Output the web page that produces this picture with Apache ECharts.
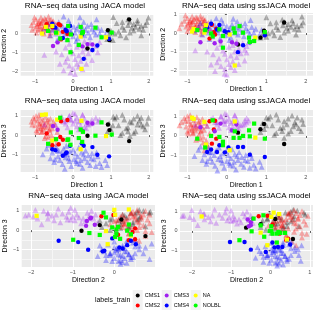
<!DOCTYPE html>
<html><head><meta charset="utf-8">
<script src="https://cdn.jsdelivr.net/npm/echarts@6/dist/echarts.min.js"></script>
<style>html,body{margin:0;padding:0;background:#fff}#c{width:315px;height:315px}</style>
</head><body><div id="c"></div>
<script>
// ---------- labels ----------
const trainNames = ['CMS1','CMS2','CMS3','CMS4','NA','NOLBL'];
const testNames = ['test CMS1','test CMS2','test CMS3','test CMS4'];
const panelTitles = ['RNA\u2212seq data using JACA model','RNA\u2212seq data using ssJACA model',
  'RNA\u2212seq data using JACA model','RNA\u2212seq data using ssJACA model',
  'RNA\u2212seq data using JACA model','RNA\u2212seq data using ssJACA model'];
const axisNames = ['Direction 1','Direction 2','Direction 3'];
const legendTitle = 'labels_train';
const majorTicks = [-3,-2,-1,0,1,2,3];
const minorTicks = [-2.5,-1.5,-0.5,0.5,1.5,2.5];

// ---------- JACA: points as [Direction1, Direction2, Direction3] ----------
const jacaTestCMS1 = [[1.06,0.87,0.95],[1.99,0.84,0.9],[1.5,0.62,0.7],[1.6,0.5,0.85],[1.7,0.55,0.55],[1.8,0.4,0.9],[1.45,0.45,0.4],[1.55,0.3,0.65],[1.65,0.35,0.2],[1.75,0.25,0.75],[1.85,0.2,0.45],[1.9,0.45,0.3],[1.35,0.2,0.8],[1.3,0.35,0.1],[1.2,0.1,0.5],[1.1,0.0,0.85],[1.0,0.15,0.3],[0.95,-0.05,0.6],[1.25,-0.1,0.0],[1.4,-0.2,0.35],[1.5,0.05,-0.05],[1.15,0.55,0.95],[1.95,0.6,0.6],[1.7,0.7,1.0],[1.45,0.75,0.2],[0.9,-0.3,0.15],[1.05,-0.35,0.5],[1.6,0.15,0.1],[1.8,-0.1,0.55],[1.3,0.6,1.05]];
const jacaTestCMS2 = [[-1.1,0.45,0.7],[-1.05,0.6,0.9],[-1.0,0.3,0.5],[-0.98,0.75,1.0],[-0.95,0.5,0.75],[-0.92,0.2,0.35],[-0.9,0.65,0.6],[-0.88,0.4,0.9],[-0.85,0.55,0.45],[-0.83,0.1,0.2],[-0.8,0.7,0.8],[-0.8,0.35,0.65],[-0.78,0.25,0.3],[-0.75,0.8,0.55],[-0.73,0.45,0.95],[-0.7,0.6,0.4],[-0.7,0.15,0.7],[-0.68,0.3,0.1],[-0.65,0.5,0.6],[-0.63,0.7,0.25],[-0.6,0.05,0.5],[-0.6,0.4,0.85],[-0.57,0.55,0.0],[-0.55,0.25,0.35],[-0.52,0.65,0.7],[-0.5,0.35,-0.2],[-0.48,0.1,0.55],[-0.45,0.5,-0.45],[-0.42,0.2,0.15],[-1.08,0.2,0.55],[-1.02,0.85,0.8],[-0.97,0.05,0.25],[-0.9,0.55,1.05],[-0.87,0.25,0.6],[-0.83,0.6,0.15],[-0.77,0.0,0.45],[-0.72,0.75,-0.05],[-0.66,0.2,0.8],[-0.62,-0.1,0.3],[-0.58,0.75,-0.3],[-0.65,0.9,-0.1],[-0.85,0.85,0.35],[-0.75,0.35,-0.15],[-0.95,0.4,0.15],[-0.55,0.6,-0.55]];
const jacaTestCMS3 = [[-0.76,-1.13,0.55],[-0.07,-2.06,0.8],[0.0,-1.85,0.6],[-0.1,-1.7,1.0],[0.1,-1.6,0.9],[-0.2,-1.5,0.75],[0.2,-1.45,0.5],[0.05,-1.35,1.1],[-0.15,-1.3,0.4],[0.3,-1.25,0.85],[0.15,-1.15,0.7],[-0.3,-1.1,0.95],[0.4,-1.05,0.55],[0.25,-0.95,1.05],[-0.05,-0.9,0.8],[0.5,-0.85,0.65],[0.35,-0.8,0.35],[-0.2,-0.75,0.6],[0.1,-0.7,0.45],[0.6,-0.65,0.9],[0.2,-0.6,0.75],[-0.1,-0.55,1.0],[0.45,-0.5,0.6],[0.7,-0.45,0.8],[0.3,-0.4,0.4],[-0.25,-1.95,0.7],[0.05,-2.14,0.75],[0.15,-1.75,0.3],[-0.35,-1.6,0.85],[0.25,-1.9,1.05],[0.5,-1.4,0.8],[0.65,-1.0,0.7],[-0.45,-0.95,0.5],[0.0,-1.05,1.15],[0.35,-1.6,0.6]];
const jacaTestCMS4 = [[-0.8,0.1,-1.0],[-0.7,0.3,-0.7],[-0.6,-0.1,-1.2],[-0.55,0.2,-0.9],[-0.5,0.45,-1.4],[-0.45,0.0,-0.6],[-0.4,0.25,-1.1],[-0.38,0.6,-0.8],[-0.35,-0.2,-1.3],[-0.3,0.1,-0.95],[-0.28,0.4,-1.5],[-0.25,0.9,-0.7],[-0.2,0.0,-1.15],[-0.18,0.3,-0.55],[-0.15,-0.3,-1.0],[-0.1,0.2,-1.35],[-0.08,0.5,-0.85],[-0.05,0.1,-1.6],[0.0,-0.15,-0.75],[0.02,0.35,-1.25],[0.05,0.05,-0.95],[0.1,0.25,-1.45],[0.12,-0.25,-1.1],[0.15,0.45,-0.65],[0.2,0.15,-1.3],[0.22,0.0,-0.9],[0.25,0.3,-1.7],[0.3,-0.1,-1.2],[0.33,0.2,-0.8],[0.38,0.4,-1.4],[0.4,0.05,-1.05],[0.45,-0.2,-1.55],[0.5,0.25,-0.95],[0.55,0.1,-1.25],[0.6,-0.05,-1.6],[0.65,0.3,-1.1],[0.7,0.0,-1.45],[0.75,0.2,-1.65],[0.85,-0.1,-1.3],[0.9,0.15,-1.55],[-0.65,0.5,-0.5],[-0.42,-0.35,-0.8],[-0.12,0.7,-1.2],[0.08,-0.4,-1.35],[0.28,0.6,-1.0],[-0.22,0.15,-1.75],[-0.48,0.35,-1.25],[0.18,0.85,-1.5],[0.48,0.5,-1.2],[0.62,0.75,-0.9]];
const jacaTrainCMS1 = [[1.48,0.75,-0.31],[0.92,0.17,0.55],[0.96,-0.35,0.26],[0.38,-0.79,-0.03]];
const jacaTrainCMS2 = [[-0.32,-0.31,0.72],[-0.15,-0.02,0.78],[-0.27,0.09,-0.24],[-0.34,0.44,-0.1],[-0.55,0.35,-0.52],[-0.7,0.5,0.09],[-0.38,0.5,-0.47]];
const jacaTrainCMS3 = [[-0.53,-0.66,0.47],[0.25,-0.68,0.22],[0.38,-0.56,0.64],[0.51,-0.58,0.6],[-0.41,-0.47,0.28]];
const jacaTrainCMS4 = [[0.28,-1.34,-0.55],[0.51,-0.87,-0.62],[0.64,-0.63,-1.02],[0.95,-0.28,-1.1],[-0.27,-0.24,-1.07],[-0.55,0.52,-0.73],[-0.47,0.31,-0.78],[-0.08,0.4,-0.55],[-0.17,0.12,-0.9],[0.23,-0.05,-0.43],[-0.2,0.2,-0.95]];
const jacaTrainNA = [[-0.82,0.0,1.05],[-0.72,0.35,1.07],[-0.42,0.02,0.8],[-0.55,0.4,-0.28],[0.87,-0.2,-0.05],[0.2,-0.16,-0.73],[0.22,-1.87,0.74]];
const jacaTrainNOLBL = [[-0.66,0.14,-0.45],[-0.45,0.05,-0.21],[-0.15,-0.35,-0.25],[0.2,0.35,0.29],[0.26,0.09,0.17],[0.24,0.02,-0.35],[-0.06,-0.05,0.14],[0.59,0.31,-0.03],[0.75,-0.2,0.66],[1.02,0.05,0.03],[-0.34,-0.26,0.9],[-0.13,0.4,-0.22],[-0.07,-0.99,-0.5],[0.15,-0.6,-0.15]];

// ---------- ssJACA ----------
const ssTestCMS1 = [[1.0,0.85,0.95],[1.9,0.88,0.85],[1.45,0.6,0.75],[1.55,0.48,0.9],[1.68,0.52,0.5],[1.78,0.38,0.95],[1.42,0.42,0.45],[1.52,0.28,0.6],[1.62,0.33,0.25],[1.72,0.22,0.7],[1.82,0.18,0.4],[1.88,0.42,0.25],[1.3,0.18,0.85],[1.25,0.32,0.15],[1.15,0.08,0.55],[1.05,-0.02,0.9],[0.95,0.12,0.35],[0.9,-0.08,0.65],[1.2,-0.12,0.05],[1.35,-0.22,0.4],[1.45,0.02,-0.1],[1.1,0.52,1.0],[1.93,0.58,0.62],[1.65,0.68,1.05],[1.4,0.72,0.25],[0.85,-0.25,0.2],[1.0,-0.2,0.55],[1.55,0.12,0.12],[1.75,-0.08,0.6],[1.25,0.58,1.1]];
const ssTestCMS2 = [[-1.15,0.5,0.72],[-1.08,0.66,0.92],[-1.03,0.35,0.48],[-1.0,0.8,1.02],[-0.98,0.55,0.78],[-0.95,0.25,0.32],[-0.93,0.7,0.62],[-0.9,0.45,0.92],[-0.88,0.6,0.42],[-0.86,0.15,0.18],[-0.83,0.75,0.82],[-0.82,0.4,0.62],[-0.8,0.3,0.28],[-0.78,0.85,0.52],[-0.76,0.5,0.98],[-0.73,0.65,0.38],[-0.72,0.2,0.72],[-0.7,0.35,0.08],[-0.68,0.55,0.58],[-0.66,0.75,0.22],[-0.63,0.1,0.48],[-0.62,0.45,0.88],[-0.6,0.6,-0.05],[-0.58,0.3,0.32],[-0.55,0.7,0.68],[-0.52,0.4,-0.25],[-0.5,0.15,0.52],[-0.47,0.55,-0.55],[-0.44,0.25,0.12],[-1.2,0.25,0.55],[-1.05,0.95,0.78],[-1.0,0.1,0.22],[-0.93,0.6,1.08],[-0.9,0.3,0.58],[-0.86,0.65,0.12],[-0.8,0.05,0.45],[-0.75,0.8,-0.1],[-0.69,0.25,0.78],[-0.65,-0.05,0.28],[-0.6,0.8,-0.35],[-0.67,0.92,-0.15],[-0.88,0.9,0.33],[-0.78,0.4,-0.2],[-0.98,0.45,0.12],[-0.57,0.65,-0.75]];
const ssTestCMS3 = [[-0.8,-0.94,0.55],[-0.06,-2.2,0.8],[-0.05,-1.95,0.62],[-0.15,-1.78,1.02],[0.05,-1.68,0.88],[-0.25,-1.58,0.72],[0.15,-1.52,0.5],[0.0,-1.42,1.1],[-0.2,-1.38,0.42],[0.25,-1.3,0.85],[0.1,-1.22,0.68],[-0.35,-1.15,0.95],[0.35,-1.1,0.55],[0.2,-1.0,1.05],[-0.1,-0.95,0.78],[0.45,-0.9,0.62],[0.3,-0.85,0.38],[-0.25,-0.8,0.6],[0.05,-0.75,0.45],[0.5,-0.7,0.92],[0.15,-0.65,0.75],[-0.15,-0.6,1.0],[0.4,-0.55,0.58],[0.55,-0.5,0.8],[0.25,-0.45,0.42],[-0.3,-2.05,0.72],[0.0,-2.24,0.78],[0.1,-1.85,0.3],[-0.4,-1.7,0.88],[0.2,-2.0,1.08],[0.45,-1.48,0.8],[0.5,-1.05,0.7],[-0.5,-1.0,0.52],[-0.05,-1.12,1.16],[0.3,-1.68,0.6]];
const ssTestCMS4 = [[-0.82,0.12,-1.05],[-0.72,0.32,-0.72],[-0.62,-0.08,-1.25],[-0.57,0.22,-0.95],[-0.52,0.47,-1.45],[-0.47,0.02,-0.62],[-0.42,0.27,-1.15],[-0.4,0.62,-0.85],[-0.37,-0.18,-1.35],[-0.32,0.12,-1.0],[-0.3,0.42,-1.55],[-0.27,0.79,-0.75],[-0.22,0.02,-1.2],[-0.2,0.32,-0.6],[-0.17,-0.28,-1.05],[-0.12,0.22,-1.4],[-0.1,0.52,-0.9],[-0.07,0.12,-1.65],[-0.02,-0.13,-0.8],[0.0,0.37,-1.3],[0.03,0.07,-1.0],[0.08,0.27,-1.5],[0.1,-0.23,-1.15],[0.13,0.47,-0.7],[0.18,0.17,-1.35],[0.2,0.02,-0.95],[0.23,0.32,-1.75],[0.28,-0.08,-1.25],[0.31,0.22,-0.85],[0.36,0.42,-1.45],[0.38,0.07,-1.1],[0.43,-0.18,-1.6],[0.48,0.27,-1.0],[0.53,0.12,-1.3],[0.58,-0.03,-1.65],[0.63,0.32,-1.15],[0.68,0.02,-1.5],[0.73,0.22,-1.7],[0.83,-0.08,-1.35],[0.88,0.17,-1.6],[-0.67,0.52,-0.55],[-0.44,-0.33,-0.85],[-0.14,0.72,-1.25],[0.06,-0.38,-1.4],[0.26,0.62,-1.05],[-0.24,0.17,-1.8],[-0.5,0.37,-1.3],[0.16,0.77,-1.55],[0.46,0.52,-1.25],[0.6,0.7,-0.95]];
const ssTrainCMS1 = [[1.45,0.57,-0.42],[0.94,0.12,0.62],[0.85,-0.25,0.35],[0.28,-0.62,0.17]];
const ssTrainCMS2 = [[-0.44,-0.3,0.76],[-0.3,-0.08,0.79],[-0.27,0.23,-0.14],[-0.38,0.45,-0.4],[-0.53,0.4,-0.48],[-0.33,0.05,0.33]];
const ssTrainCMS3 = [[-0.67,-0.5,0.45],[-0.31,-0.55,0.24],[-0.16,-0.45,0.64],[0.13,-0.5,0.29],[0.24,-0.58,0.59]];
const ssTrainCMS4 = [[0.28,-1.03,-0.57],[0.41,-0.66,-0.57],[0.58,-0.5,-0.97],[0.96,-0.12,-1.09],[0.04,0.05,-0.6],[-0.19,0.43,-0.48],[-0.25,0.19,-0.83],[-0.5,0.3,-0.83],[-0.4,0.5,-0.7],[-0.05,0.1,-0.85]];
const ssTrainNA = [[0.2,-1.75,0.75],[0.72,-0.25,-0.09],[0.07,-0.08,-0.74],[-0.88,0.08,0.95],[-0.84,0.22,0.88],[-0.53,0.42,-0.45],[-0.57,0.02,0.73]];
const ssTrainNOLBL = [[-0.75,0.16,-0.14],[-0.55,0.16,-0.6],[-0.4,-0.02,0.0],[-0.1,-0.16,-0.3],[0.17,0.25,-0.1],[0.2,0.02,0.24],[0.41,0.02,0.0],[0.58,-0.48,-0.02],[0.69,-0.43,0.64],[0.96,0.05,-0.14],[-0.1,-0.79,-0.48],[-0.36,-0.18,0.81],[0.56,-0.25,0.29],[-0.19,0.2,-0.05],[0.32,0.37,-0.1]];

// ---------- styling / layout ----------
const trainColors = ['#000000','#FF0000','#A020F0','#0000FF','#FFFF00','#00FF00'];
const trainSymbols = ['circle','circle','circle','circle','rect','rect'];
const trainSizes = [4.4,4.4,4.4,4.4,4.2,4.2];
const FONT = 'Liberation Sans';

const jacaTest = [jacaTestCMS1,jacaTestCMS2,jacaTestCMS3,jacaTestCMS4];
const jacaTrain = [jacaTrainCMS1,jacaTrainCMS2,jacaTrainCMS3,jacaTrainCMS4,jacaTrainNA,jacaTrainNOLBL];
const ssTest = [ssTestCMS1,ssTestCMS2,ssTestCMS3,ssTestCMS4];
const ssTrain = [ssTrainCMS1,ssTrainCMS2,ssTrainCMS3,ssTrainCMS4,ssTrainNA,ssTrainNOLBL];

const jacaLim = [[-1.385,2.118],[-2.23,0.98],[-1.91,1.30]];
const ssLim = [[-1.205,2.18],[-2.3,1.08],[-1.87,1.345]];

const panels = [
  {test:jacaTest, train:jacaTrain, lim:jacaLim, dx:0, dy:1, rect:[16.7,15,136.6,60.7]},
  {test:ssTest, train:ssTrain, lim:ssLim, dx:0, dy:1, rect:[179.3,13,133.7,62.7]},
  {test:jacaTest, train:jacaTrain, lim:jacaLim, dx:0, dy:2, rect:[16.7,110,136.6,62]},
  {test:ssTest, train:ssTrain, lim:ssLim, dx:0, dy:2, rect:[179.3,110,133.7,62]},
  {test:jacaTest, train:jacaTrain, lim:jacaLim, dx:1, dy:2, rect:[21.7,205,133.3,62]},
  {test:ssTest, train:ssTrain, lim:ssLim, dx:1, dy:2, rect:[180,205,133,62]}
];
const titleCenterY = [6.7, 6.7, 101, 101, 196, 196];

const fmt = v => (v < 0 ? '\u2212' : '') + Math.abs(v);

const grid = [], xAxis = [], yAxis = [], series = [], title = [];
panels.forEach((p, i) => {
  const [l,t,w,h] = p.rect;
  grid.push({left:l, top:t, width:w, height:h, backgroundColor:'#EBEBEB', show:true, borderWidth:0});
  title.push({text:panelTitles[i], left:l + w/2, top:titleCenterY[i] - 4.6, textAlign:'center', padding:0,
    textStyle:{fontSize:8, fontWeight:'normal', color:'#000', fontFamily:FONT}});
  const mk = (dir, lim, main, name, gap) => ({
    type:'value', gridIndex:i, min:lim[0], max:lim[1],
    position: dir === 'x' ? (main ? 'bottom' : 'top') : (main ? 'left' : 'right'),
    axisLine:{show:false},
    axisTick: main ? {show:true, length:2, lineStyle:{color:'#333333', width:0.8}, customValues:majorTicks}
                   : {show:false, customValues:minorTicks},
    axisLabel: main ? {show:true, customValues:majorTicks, fontSize:5.5, color:'#4D4D4D', margin:2.5, fontFamily:FONT, formatter:fmt}
                    : {show:false},
    splitLine:{show:true, lineStyle:{color: main ? '#FFFFFF' : '#F6F6F6', width:1}},
    name: main ? name : '', nameLocation:'middle', nameGap:gap,
    nameTextStyle:{fontSize:6.9, color:'#000', fontFamily:FONT}
  });
  xAxis.push(mk('x', p.lim[p.dx], true, axisNames[p.dx], 9.5));
  xAxis.push(mk('x', p.lim[p.dx], false, '', 0));
  yAxis.push(mk('y', p.lim[p.dy], true, axisNames[p.dy], 6.5));
  yAxis.push(mk('y', p.lim[p.dy], false, '', 0));
  p.test.forEach((arr, c) => {
    series.push({type:'scatter', name:testNames[c], xAxisIndex:2*i, yAxisIndex:2*i, silent:true,
      symbol:'triangle', symbolSize:5.8, z:2,
      itemStyle:{color:trainColors[c], opacity:0.3},
      data: arr.map(pt => [pt[p.dx], pt[p.dy]])});
  });
  p.train.forEach((arr, c) => {
    series.push({type:'scatter', name:trainNames[c], xAxisIndex:2*i, yAxisIndex:2*i, silent:true,
      symbol:trainSymbols[c], symbolSize:trainSizes[c], z:3,
      itemStyle:{color:trainColors[c], opacity:1},
      data: arr.map(pt => [pt[p.dx], pt[p.dy]])});
  });
});

title.push({text:legendTitle, left:95, top:296.5, padding:0,
  textStyle:{fontSize:6.9, fontWeight:'normal', color:'#000', fontFamily:FONT}});

const legendRow = (names, top) => ({
  data:names, left:135.7, top:top, orient:'horizontal', icon:'circle', itemWidth:4, itemHeight:4,
  itemGap:4.7, padding:0, selectedMode:false,
  textStyle:{fontSize:5.5, color:'#000', fontFamily:FONT, padding:0}
});

const keyBoxes = [];
[132.7,161.7,190.7].forEach(x => [290,300].forEach(y => keyBoxes.push(
  {type:'rect', shape:{x:x, y:y, width:10, height:10}, style:{fill:'#F2F2F2'}, z:0, silent:true})));

const chart = echarts.init(document.getElementById('c'), null, {renderer:'canvas'});
chart.setOption({
  animation:false, backgroundColor:'#FFFFFF',
  title, grid, xAxis, yAxis, series,
  legend:[legendRow(['CMS1','CMS3','NA'], 292.5), legendRow(['CMS2','CMS4','NOLBL'], 302.5)],
  graphic:{elements:keyBoxes}
});
</script></body></html>
